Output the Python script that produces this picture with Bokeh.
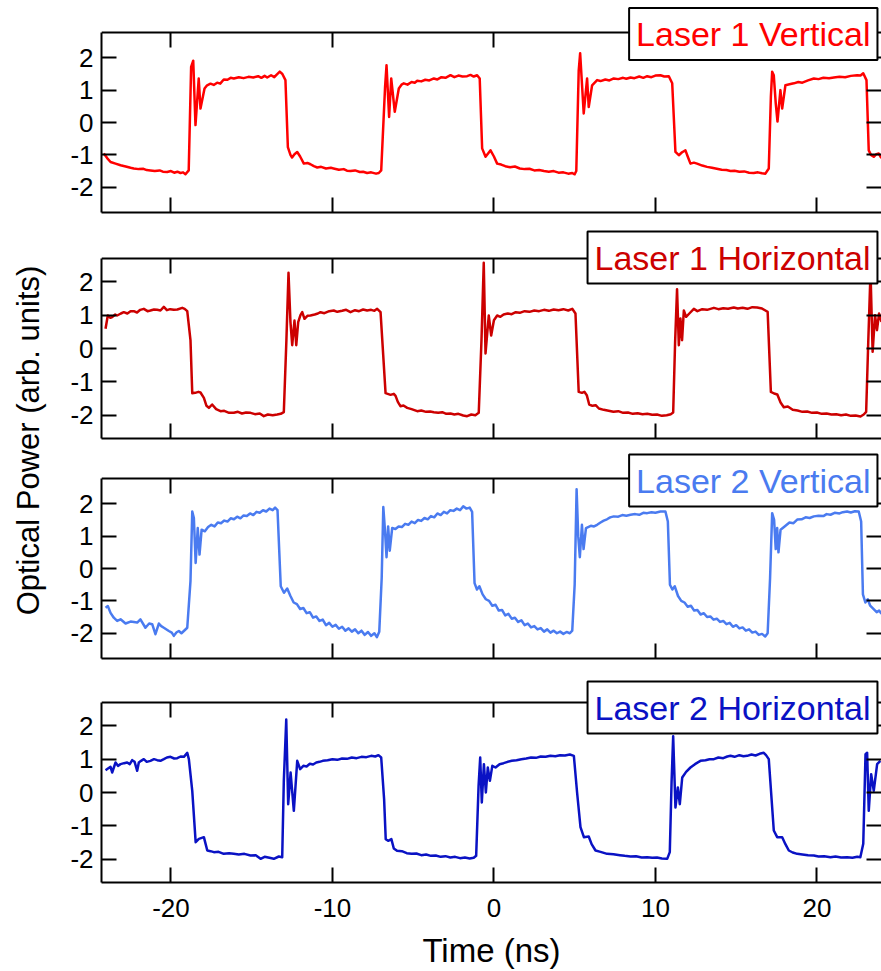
import math

from bokeh.embed import file_html
from bokeh.layouts import column, row
from bokeh.models import (CustomJSTickFormatter, FixedTicker, Label,
                          LinearAxis, Range1d)
from bokeh.plotting import figure
from bokeh.resources import INLINE

FONT = "Liberation Sans"

# ---------------------------------------------------------------- data
# Time axis (ns) and tick positions
X_START, X_END = -24.3, 24.0
X_TICKS = [-20, -10, 0, 10, 20]
Y_TICKS = [-2, -1, 0, 1, 2]

# Laser 1, vertical polarisation
l1v_t = [-24.16, -23.95, -23.74, -23.43, -23.12, -22.8, -22.5, -22.3, -22.0, -21.7, -21.5, -21.27,
         -21.0, -20.7, -20.5, -20.23, -20.0, -19.8, -19.6, -19.41, -19.25, -19.1, -18.9, -18.75,
         -18.62, -18.48, -18.28, -18.17, -17.92, -17.76, -17.55, -17.35, -17.14, -16.95, -16.73,
         -16.5, -16.3, -16.11, -15.8, -15.5, -15.2, -14.9, -14.6, -14.4, -14.2, -14.04, -13.8,
         -13.6, -13.45, -13.26, -13.1, -12.91, -12.76, -12.6, -12.5, -12.35, -12.18, -12.0,
         -11.77, -11.55, -11.36, -11.15, -10.94, -10.7, -10.4, -10.1, -9.93, -9.6, -9.3, -9.1,
         -8.88, -8.6, -8.3, -8.1, -7.85, -7.6, -7.3, -7.13, -6.98, -6.74, -6.65, -6.49, -6.36,
         -6.14, -5.89, -5.7, -5.58, -5.35, -5.1, -4.9, -4.75, -4.5, -4.25, -4.0, -3.72, -3.5,
         -3.25, -3.0, -2.69, -2.45, -2.2, -1.95, -1.66, -1.45, -1.25, -1.04, -0.88, -0.73, -0.52,
         -0.35, -0.21, 0.0, 0.2, 0.45, 0.7, 1.0, 1.3, 1.6, 1.9, 2.2, 2.5, 2.8, 3.1, 3.4, 3.7, 4.0,
         4.3, 4.6, 4.85, 5.0, 5.1, 5.25, 5.34, 5.56, 5.77, 5.87, 6.08, 6.39, 6.6, 6.9, 7.15, 7.42,
         7.7, 8.0, 8.2, 8.46, 8.7, 9.0, 9.25, 9.49, 9.75, 10.0, 10.31, 10.55, 10.83, 11.04, 11.24,
         11.45, 11.65, 11.86, 12.0, 12.17, 12.38, 12.58, 12.9, 13.2, 13.5, 13.8, 14.1, 14.4,
         14.65, 14.9, 15.2, 15.5, 15.8, 16.09, 16.35, 16.6, 16.81, 17.02, 17.15, 17.23, 17.33,
         17.45, 17.56, 17.74, 17.85, 18.05, 18.3, 18.57, 18.85, 19.1, 19.45, 19.81, 20.1, 20.4,
         20.75, 21.05, 21.4, 21.75, 22.1, 22.49, 22.7, 22.87, 23.07, 23.21, 23.35, 23.52, 23.68,
         23.83, 23.99]
l1v_p = [-0.96, -1.10, -1.22, -1.27, -1.32, -1.36, -1.40, -1.42, -1.44, -1.43, -1.47, -1.48,
         -1.50, -1.48, -1.52, -1.53, -1.50, -1.55, -1.52, -1.56, -1.54, -1.60, -1.48, 1.72,
         1.91, -0.08, 1.36, 0.43, 1.05, 1.15, 1.20, 1.16, 1.23, 1.20, 1.33,
         1.32, 1.38, 1.36, 1.40, 1.37, 1.41, 1.39, 1.43, 1.38, 1.44, 1.39, 1.46,
         1.40, 1.48, 1.57, 1.50, 1.31, -0.76, -1.00, -1.08, -0.98, -0.91, -1.05,
         -1.27, -1.25, -1.29, -1.35, -1.39, -1.37, -1.42, -1.40, -1.42, -1.46, -1.44, -1.49,
         -1.50, -1.48, -1.53, -1.52, -1.56, -1.54, -1.58, -1.56, -1.48, 1.10, 1.77, 0.17, 1.36,
         0.33, 1.05, 1.18, 1.21, 1.17, 1.25, 1.23, 1.29, 1.27, 1.32, 1.30, 1.36, 1.33,
         1.40, 1.38, 1.46, 1.40, 1.45, 1.42, 1.43, 1.47, 1.42, 1.46, 1.36, -0.80, -1.06,
         -0.95, -0.86, -1.05, -1.27, -1.30, -1.35, -1.38, -1.36, -1.42, -1.44, -1.43, -1.48,
         -1.47, -1.50, -1.52, -1.50, -1.55,
         -1.54, -1.58, -1.56, -1.60, -1.50, 1.60, 2.14, 0.28, 1.36, 0.48, 1.15, 1.31, 1.28, 1.33,
         1.30, 1.36,
         1.34, 1.38, 1.35, 1.39, 1.37, 1.42, 1.38, 1.43, 1.40, 1.45, 1.46, 1.42, 1.43, 1.21,
         -0.91,
         -1.01, -0.92, -0.86, -1.05, -1.27, -1.24, -1.27, -1.33, -1.37, -1.40, -1.43, -1.46,
         -1.47,
         -1.50, -1.49, -1.52, -1.51, -1.55, -1.56, -1.54, -1.57, -1.58, -1.42, 0.80, 1.57, 1.46,
         0.60, 0.03, 1.00, 0.43, 1.15, 1.18, 1.21, 1.25, 1.23, 1.30, 1.36, 1.34, 1.38,
         1.37, 1.39, 1.41, 1.40, 1.44, 1.46, 1.45, 1.52, 1.31, -0.86, -1.00, -1.06, -0.98,
         -0.96, -1.10]

# Laser 1, horizontal polarisation
l1h_t = [-24.05, -23.91, -23.75, -23.64, -23.45, -23.33, -23.1, -22.92, -22.7, -22.5, -22.3,
         -22.1, -21.9, -21.68, -21.45, -21.27, -21.05, -20.85, -20.65, -20.44, -20.25, -20.05,
         -19.82, -19.6, -19.3, -19.15, -18.99, -18.79, -18.68, -18.5, -18.3, -18.17, -17.96,
         -17.8, -17.65, -17.45, -17.2, -16.93, -16.7, -16.4, -16.11, -15.85, -15.6, -15.35,
         -15.07, -14.8, -14.5, -14.25, -14.0, -13.7, -13.42, -13.2, -13.01, -12.85, -12.72,
         -12.6, -12.49, -12.35, -12.24, -12.12, -11.98, -11.87, -11.73, -11.55, -11.36, -11.1,
         -10.9, -10.74, -10.5, -10.2, -9.92, -9.7, -9.4, -9.15, -8.88, -8.6, -8.35, -8.1, -7.85,
         -7.6, -7.4, -7.23, -7.02, -6.71, -6.4, -6.2, -6.09, -5.95, -5.79, -5.6, -5.37, -5.1,
         -4.75, -4.5, -4.2, -3.95, -3.72, -3.45, -3.2, -2.95, -2.69, -2.45, -2.2, -1.9, -1.66,
         -1.4, -1.15, -0.94, -0.77, -0.63, -0.52, -0.32, -0.17, 0.0, 0.2, 0.4, 0.6, 0.85, 1.1,
         1.35, 1.6, 1.9, 2.2, 2.5, 2.8, 3.1, 3.4, 3.7, 4.0, 4.3, 4.6, 4.85, 5.05, 5.25, 5.45,
         5.6, 5.75, 5.9, 6.1, 6.3, 6.5, 6.8, 7.1, 7.4, 7.7, 8.0, 8.3, 8.6, 8.9, 9.2, 9.5, 9.8,
         10.1, 10.4, 10.7, 10.95, 11.1, 11.22, 11.34, 11.45, 11.55, 11.65, 11.76, 11.9, 12.1,
         12.38, 12.6, 12.9, 13.2, 13.62, 13.9, 14.2, 14.5, 14.85, 15.1, 15.4, 15.7, 16.0, 16.3,
         16.6, 16.81, 16.95, 17.15, 17.35, 17.55, 17.75, 17.95, 18.2, 18.5, 18.8, 19.1, 19.4,
         19.7, 20.0, 20.3, 20.6, 20.9, 21.2, 21.5, 21.8, 22.1, 22.4, 22.7, 22.9, 23.05, 23.18,
         23.32, 23.45, 23.6, 23.72, 23.85, 24.0]
l1h_p = [0.59, 0.99, 0.92, 0.94, 1.02, 0.99, 1.05, 1.09, 1.05, 1.12, 1.12,
         1.08, 1.16, 1.19, 1.12, 1.14, 1.17, 1.16, 1.14, 1.25, 1.15, 1.18,
         1.16, 1.17, 1.22, 1.19, 1.12, 0.25, -1.34, -1.33, -1.30, -1.32, -1.48,
         -1.72, -1.78, -1.68, -1.82, -1.88, -1.87, -1.93, -1.93, -1.90, -1.95, -1.92,
         -1.93, -1.97, -1.95, -2.03, -1.98, -2.00, -1.98, -1.96, -1.91, 0.25, 2.27,
         0.80, 0.10, 0.84, 0.10, 0.79, 1.00, 1.09, 0.89, 0.98, 0.99, 1.02,
         1.05, 1.09, 1.06, 1.12, 1.14, 1.10, 1.13, 1.16, 1.09, 1.15, 1.12, 1.17, 1.14,
         1.16, 1.13, 1.19, 1.09, -1.34, -1.39, -1.36, -1.42, -1.60, -1.73, -1.71, -1.78, -1.82,
         -1.88, -1.86, -1.90, -1.89, -1.91, -1.93, -1.91, -1.96, -1.95, -1.98, -1.96, -2.01,
         -2.03,
         -1.98, -2.00, -1.93, 0.25, 2.57, -0.15, 0.99, 0.39, 0.85, 0.99, 0.95, 1.02, 1.05, 1.03,
         1.09, 1.07, 1.12, 1.10, 1.14, 1.12, 1.16, 1.13, 1.17, 1.15, 1.18, 1.14, 1.19, 1.05,
         -1.30, -1.33,
         -1.30, -1.40, -1.68, -1.72, -1.70, -1.80, -1.84, -1.87, -1.90, -1.88, -1.93, -1.92,
         -1.96, -1.94, -1.97, -1.96, -1.99,
         -1.98, -2.02, -2.00, -1.97, -1.92, 0.20, 1.78, 0.10, 0.90, 0.25, 1.14, 0.95, 1.05,
         1.19, 1.12, 1.18, 1.16, 1.22, 1.18, 1.21, 1.19, 1.23, 1.20, 1.22, 1.19, 1.24, 1.23,
         1.20, 1.14, 1.10, -1.30, -1.35, -1.38, -1.62, -1.76, -1.74, -1.84, -1.86, -1.90, -1.89,
         -1.93, -1.92, -1.96, -1.95, -1.98, -1.97, -2.00, -1.98, -2.02, -2.01, -2.04, -1.98,
         -1.90, 0.20,
         2.30, -0.10, 1.00, 0.55, 1.05, 0.80]

# Laser 2, vertical polarisation
l2v_t = [-24.05, -23.91, -23.74, -23.54, -23.33, -23.12, -22.81, -22.5, -22.09, -21.89, -21.58,
         -21.35, -21.16, -20.96, -20.75, -20.6, -20.44, -20.13, -19.95, -19.82, -19.65, -19.51,
         -19.35, -19.2, -18.99, -18.79, -18.68, -18.58, -18.47, -18.34, -18.23, -18.1, -17.9,
         -17.7, -17.5, -17.3, -17.1, -16.9, -16.7, -16.5, -16.3, -16.1, -15.9, -15.7, -15.5,
         -15.3, -15.1, -14.9, -14.7, -14.5, -14.3, -14.1, -13.9, -13.7, -13.55, -13.4, -13.2,
         -13.0, -12.8, -12.6, -12.4, -12.2, -12.0, -11.8, -11.6, -11.4, -11.2, -11.0, -10.8,
         -10.6, -10.4, -10.2, -10.0, -9.8, -9.6, -9.4, -9.2, -9.0, -8.8, -8.6, -8.4, -8.2, -8.0,
         -7.8, -7.6, -7.4, -7.25, -7.1, -6.95, -6.85, -6.75, -6.65, -6.55, -6.45, -6.3, -6.1,
         -5.9, -5.7, -5.5, -5.3, -5.1, -4.9, -4.7, -4.5, -4.3, -4.1, -3.9, -3.7, -3.5, -3.3,
         -3.1, -2.9, -2.7, -2.5, -2.3, -2.1, -1.9, -1.7, -1.5, -1.35, -1.2, -1.05, -0.9, -0.7,
         -0.5, -0.3, -0.1, 0.1, 0.3, 0.5, 0.7, 0.9, 1.1, 1.3, 1.5, 1.7, 1.9, 2.1, 2.3, 2.5, 2.7,
         2.9, 3.1, 3.3, 3.5, 3.7, 3.9, 4.1, 4.3, 4.5, 4.7, 4.85, 5.0, 5.12, 5.22, 5.32, 5.45,
         5.55, 5.7, 6.0, 6.2, 6.39, 6.6, 6.8, 7.0, 7.2, 7.42, 7.7, 7.95, 8.2, 8.46, 8.75, 9.0,
         9.25, 9.49, 9.75, 10.0, 10.31, 10.62, 10.77, 10.9, 11.05, 11.2, 11.4, 11.6, 11.8, 12.0,
         12.2, 12.4, 12.6, 12.8, 13.0, 13.2, 13.4, 13.6, 13.8, 14.0, 14.2, 14.4, 14.6, 14.8,
         15.0, 15.2, 15.4, 15.6, 15.8, 16.0, 16.2, 16.4, 16.6, 16.8, 16.95, 17.1, 17.23, 17.35,
         17.45, 17.54, 17.62, 17.75, 18.0, 18.3, 18.55, 18.78, 19.05, 19.3, 19.55, 19.81, 20.1,
         20.4, 20.6, 20.84, 21.1, 21.4, 21.6, 21.87, 22.1, 22.35, 22.59, 22.74, 22.85, 23.0,
         23.15, 23.3, 23.5, 23.7, 23.85, 24.0]
l2v_p = [-1.21, -1.16, -1.37, -1.52, -1.62, -1.57, -1.70, -1.64, -1.67, -1.57, -1.83,
         -1.70, -1.72, -2.03, -1.70, -1.78, -1.83, -1.93, -1.98, -2.08, -1.97, -1.93,
         -2.00, -1.93, -1.83, -0.39, 1.76, 1.56, 0.17, 1.25, 0.43, 1.20, 1.15,
         1.28, 1.35, 1.30, 1.42, 1.40, 1.48, 1.45, 1.55, 1.52, 1.60, 1.55, 1.64,
         1.62, 1.70, 1.65, 1.75, 1.72, 1.80, 1.76, 1.85, 1.80, 1.88, 1.80, -0.55,
         -0.75, -0.62, -0.85, -1.05, -1.10, -1.25, -1.22, -1.38, -1.35, -1.52, -1.48, -1.62,
         -1.58, -1.75, -1.68, -1.80, -1.74, -1.86, -1.80, -1.92, -1.85, -1.95, -1.88, -2.00,
         -1.92, -2.05,
         -1.96, -2.08, -2.00, -2.12, -1.95, -0.30, 1.90, 1.20, 0.35, 1.30, 0.55, 1.25, 1.22,
         1.30, 1.28, 1.38, 1.35, 1.45, 1.40, 1.50, 1.47, 1.56, 1.52, 1.62, 1.58, 1.70, 1.65,
         1.75, 1.70, 1.80, 1.78, 1.85, 1.80, 1.92, 1.85, 1.88, 1.75, -0.45, -0.65, -0.55, -0.80,
         -0.95, -1.00, -1.15, -1.12, -1.30, -1.28, -1.45, -1.40, -1.55, -1.52, -1.65, -1.60,
         -1.75, -1.70, -1.82, -1.78, -1.88,
         -1.84, -1.95, -1.88, -1.98, -1.92, -2.00, -1.95, -2.02, -1.96, -2.00, -1.92, -0.50,
         2.45, 1.00, 0.35, 1.35,
         0.60, 1.25, 1.32, 1.30, 1.35, 1.42, 1.48, 1.52, 1.58, 1.61, 1.60, 1.65, 1.63, 1.66,
         1.68, 1.66,
         1.72, 1.71, 1.74, 1.72, 1.76, 1.76, 1.45, -0.50, -0.65, -0.55, -0.85, -1.00, -1.05,
         -1.18,
         -1.15, -1.30, -1.28, -1.42, -1.38, -1.50, -1.48, -1.58, -1.55, -1.65, -1.62, -1.72,
         -1.68, -1.80,
         -1.75, -1.85, -1.82, -1.92, -1.88, -1.98, -1.95, -2.05, -2.02, -2.10, -2.00, -0.30,
         1.71, 1.50,
         0.60, 1.25, 0.50, 1.20, 1.30, 1.42, 1.40, 1.51, 1.52, 1.58, 1.56, 1.61, 1.63,
         1.62, 1.68, 1.66, 1.72, 1.70, 1.74, 1.76, 1.73, 1.77, 1.76, 1.45, -0.80, -1.05,
         -0.95, -1.15, -1.25, -1.35, -1.30, -1.40]

# Laser 2, horizontal polarisation
l2h_t = [-24.05, -23.9, -23.74, -23.64, -23.43, -23.28, -23.12, -22.9, -22.71, -22.55, -22.4,
         -22.25, -22.09, -21.99, -21.85, -21.68, -21.5, -21.27, -21.05, -20.85, -20.65, -20.44,
         -20.25, -20.03, -19.8, -19.61, -19.4, -19.2, -18.99, -18.89, -18.68, -18.47, -18.27,
         -17.96, -17.85, -17.75, -17.55, -17.34, -17.05, -16.73, -16.4, -16.11, -15.8, -15.45,
         -15.07, -14.75, -14.45, -14.2, -13.9, -13.63, -13.32, -13.11, -13.01, -12.86, -12.74,
         -12.59, -12.39, -12.18, -12.0, -11.8, -11.6, -11.4, -11.2, -11.0, -10.8, -10.6, -10.3,
         -10.0, -9.7, -9.4, -9.1, -8.8, -8.5, -8.2, -7.9, -7.6, -7.35, -7.15, -6.98, -6.8,
         -6.7, -6.55, -6.35, -6.2, -6.0, -5.7, -5.4, -5.1, -4.8, -4.5, -4.2, -3.9, -3.6, -3.3,
         -3.0, -2.7, -2.4, -2.1, -1.8, -1.5, -1.25, -1.1, -0.95, -0.85, -0.75, -0.62, -0.5,
         -0.38, -0.25, -0.1, 0.1, 0.35, 0.6, 0.85, 1.1, 1.4, 1.7, 2.0, 2.3, 2.6, 2.9, 3.2, 3.5,
         3.8, 4.1, 4.4, 4.7, 4.95, 5.15, 5.36, 5.57, 5.87, 6.05, 6.29, 6.6, 7.01, 7.4, 7.8, 8.1,
         8.46, 8.8, 9.15, 9.49, 9.8, 10.1, 10.4, 10.73, 10.89, 11.0, 11.1, 11.24, 11.39, 11.51,
         11.66, 11.9, 12.17, 12.45, 12.79, 13.1, 13.35, 13.62, 13.9, 14.2, 14.45, 14.65, 14.9,
         15.2, 15.45, 15.68, 15.95, 16.2, 16.45, 16.71, 16.85, 17.02, 17.33, 17.54, 17.85,
         18.05, 18.26, 18.5, 18.78, 19.1, 19.45, 19.81, 20.1, 20.45, 20.84, 21.15, 21.5, 21.87,
         22.2, 22.5, 22.69, 22.87, 23.01, 23.11, 23.21, 23.36, 23.52, 23.73, 23.93]
l2h_p = [0.67, 0.72, 0.77, 0.60, 0.90, 0.80, 0.85, 0.88, 0.90, 0.85, 0.97,
         0.92, 0.65, 0.90, 0.95, 1.00, 0.92, 0.95, 1.00, 0.97, 0.95, 1.00,
         1.05, 1.07, 1.02, 1.03, 1.08, 1.07, 1.19, 1.00, 0.05, -1.49, -1.39,
         -1.34, -1.55, -1.74, -1.76, -1.79, -1.78, -1.84, -1.82, -1.84, -1.86, -1.84,
         -1.89, -1.88, -1.99, -1.93, -1.96, -1.99, -1.92, -1.94, 0.35, 2.19, -0.35,
         0.60, -0.55, 0.95, 0.70, 0.80, 0.78, 0.86, 0.84, 0.90, 0.92, 0.95, 0.97,
         1.00, 0.98, 1.02, 1.01, 1.05, 1.03, 1.07, 1.06, 1.10, 1.08, 1.12, 1.05, -0.20,
         -1.40, -1.45, -1.40, -1.68, -1.75, -1.76, -1.82, -1.84, -1.83, -1.88, -1.86, -1.90,
         -1.89, -1.93,
         -1.91, -1.95, -1.93, -1.97, -1.95, -1.98, -1.96, -1.90, 0.20, 1.05, -0.30, 0.85, 0.00,
         0.75, 0.35, 0.80, 0.75, 0.85, 0.88, 0.92, 0.95, 0.97, 1.00, 1.02, 1.05, 1.04, 1.08,
         1.07, 1.10,
         1.09, 1.12, 1.11, 1.14, 1.10, 0.00, -1.04, -1.34, -1.32, -1.55, -1.74, -1.78, -1.84,
         -1.85, -1.88, -1.90,
         -1.92, -1.91, -1.95, -1.94, -1.96, -1.95, -1.98, -1.99, -1.79, 0.30, 1.69, -0.45,
         0.15, -0.35,
         0.45, 0.62, 0.75, 0.85, 0.95, 0.97, 1.00, 1.00, 1.05, 1.03, 1.08, 1.10, 1.07,
         1.12, 1.09, 1.10, 1.14, 1.11, 1.16, 1.19, 1.12, 1.00, -1.14, -1.34, -1.34,
         -1.55, -1.74, -1.80, -1.84, -1.86, -1.88, -1.89, -1.92, -1.91, -1.94, -1.92, -1.95,
         -1.94,
         -1.96, -1.93, -1.94, -1.54, 1.15, 1.19, -0.55, 0.55, 0.05, 0.85, 0.95]

PANELS = [
    # (label, colour, times, values, half y-range)
    ("Laser 1 Vertical", "#FF0000", l1v_t, l1v_p, 2.78),
    ("Laser 1 Horizontal", "#CC0000", l1h_t, l1h_p, 2.70),
    ("Laser 2 Vertical", "#4A7BF0", l2v_t, l2v_p, 2.78),
    ("Laser 2 Horizontal", "#0A12C4", l2h_t, l2h_p, 2.70),
]

# ---------------------------------------------------------------- layout
PANEL_W = 831
BOX_H = 180      # px between the bottom axis and the top border line of a panel
HEADROOM = 29    # px of frame kept above the top border line for the name box
# (figure height, top border, bottom border, name-box centre offset below top line)
GEOM = [(222, 3, 10, 1.5), (225, 7, 9, -1.0), (223, 2, 12, 2.0), (301, 3, 89, 5.0)]


def style_axis(ax, ticks, labelled):
    ax.ticker = FixedTicker(ticks=ticks)
    ax.axis_line_width = 2
    ax.axis_line_color = "black"
    ax.major_tick_line_width = 2
    ax.major_tick_line_color = "black"
    ax.major_tick_in = 15
    ax.major_tick_out = 0
    ax.minor_tick_in = 0
    ax.minor_tick_out = 0
    if labelled:
        ax.major_label_overrides = {t: str(t) for t in ticks}
        ax.major_label_text_font = FONT
        ax.major_label_text_font_size = "26px"
        ax.major_label_text_color = "black"
    else:
        ax.formatter = CustomJSTickFormatter(code="return ''")
        ax.major_label_text_font_size = "0px"
        ax.major_label_standoff = 0


def make_panel(idx):
    name, colour, ts, vs, half = PANELS[idx]
    height, top, bottom, label_off = GEOM[idx]
    last = idx == len(PANELS) - 1
    per_px = 2 * half / BOX_H
    p = figure(width=PANEL_W, height=height,
               x_range=Range1d(X_START, X_END),
               y_range=Range1d(-half, half + HEADROOM * per_px),
               x_axis_type=None, y_axis_type=None,
               min_border_left=51, min_border_right=0,
               min_border_top=top, min_border_bottom=bottom,
               output_backend="svg", toolbar_location=None)
    p.outline_line_color = None
    p.background_fill_color = "white"
    p.border_fill_color = "white"

    bottom_ax = LinearAxis()
    style_axis(bottom_ax, X_TICKS, last)
    if last:
        bottom_ax.major_label_standoff = 16
        bottom_ax.axis_label = "Time (ns)"
        bottom_ax.axis_label_text_font = FONT
        bottom_ax.axis_label_text_font_size = "33px"
        bottom_ax.axis_label_text_font_style = "normal"
        bottom_ax.axis_label_text_color = "black"
        bottom_ax.axis_label_standoff = 12
    p.add_layout(bottom_ax, "below")

    # top border line with inward ticks, pinned at the top of the data box
    top_ax = LinearAxis(fixed_location=half)
    style_axis(top_ax, X_TICKS, False)
    p.add_layout(top_ax, "above")

    left_ax = LinearAxis(bounds=(-half, half))
    style_axis(left_ax, Y_TICKS, True)
    left_ax.major_label_standoff = 8
    p.add_layout(left_ax, "left")

    right_ax = LinearAxis()
    style_axis(right_ax, Y_TICKS, False)
    right_ax.axis_line_color = None
    p.add_layout(right_ax, "right")

    p.line(ts, vs, line_color=colour, line_width=2.5, line_join="round")

    label_y = half - label_off * per_px
    p.add_layout(Label(x=23.75, y=label_y, text=name,
                       text_font=FONT, text_font_size="34px", text_color=colour,
                       text_align="right", text_baseline="middle",
                       background_fill_color="white", border_line_color="black",
                       border_line_width=2, padding=7))
    return p


panels = [make_panel(i) for i in range(len(PANELS))]

# Shared y-axis title in its own narrow strip to the left of the panels
side = figure(width=50, height=971, x_range=Range1d(0, 50), y_range=Range1d(971, 0),
              x_axis_type=None, y_axis_type=None, min_border=0,
              output_backend="svg", toolbar_location=None)
side.outline_line_color = None
side.add_layout(Label(x=28, y=440, text="Optical Power (arb. units)", angle=math.pi / 2,
                      text_font=FONT, text_font_size="31px", text_color="black",
                      text_align="center", text_baseline="middle"))

layout = row(side, column(*panels, spacing=0), spacing=0)

with open("out.html", "w") as fh:
    fh.write(file_html(layout, INLINE, title="Optical power traces"))
